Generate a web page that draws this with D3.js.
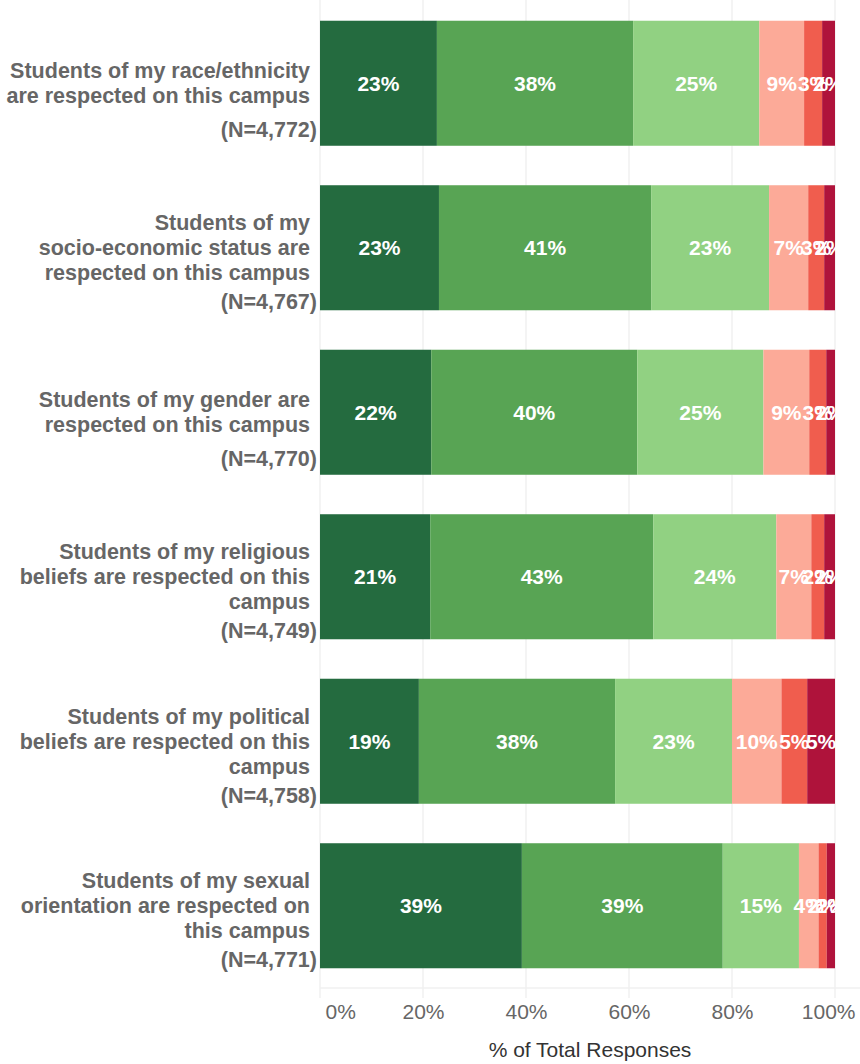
<!DOCTYPE html>
<html>
<head>
<meta charset="utf-8">
<script src="https://cdn.jsdelivr.net/npm/d3@7"></script>
<style>
  body { margin: 0; background: #fff; }
  text { font-family: "Liberation Sans", Arial, sans-serif; }
</style>
</head>
<body>
<div class="chart-container"></div>
<script>
var width = 860;
var height = 1064;

// statements, shown as wrapped lines, and respondent counts
var questions = [
  ["Students of my race/ethnicity", "are respected on this campus"],
  ["Students of my", "socio-economic status are", "respected on this campus"],
  ["Students of my gender are", "respected on this campus"],
  ["Students of my religious", "beliefs are respected on this", "campus"],
  ["Students of my political", "beliefs are respected on this", "campus"],
  ["Students of my sexual", "orientation are respected on", "this campus"]
];
var counts = ["4,772", "4,767", "4,770", "4,749", "4,758", "4,771"];

// response categories, strongly agree -> strongly disagree
var responses = ["Strongly agree", "Agree", "Somewhat agree", "Somewhat disagree", "Disagree", "Strongly disagree"];
var colors = ["#246b3f", "#58a454", "#91d182", "#fcaa98", "#f05d4e", "#af133b"];

// percent of responses per question (same order as responses)
var stronglyAgree = [22.7, 23.1, 21.6, 21.4, 19.2, 39.2];
var agree = [38.1, 41.2, 40.0, 43.3, 38.1, 39.0];
var somewhatAgree = [24.5, 22.9, 24.5, 23.9, 22.7, 14.8];
var somewhatDisagree = [8.7, 7.6, 8.9, 6.8, 9.6, 3.8];
var disagree = [3.5, 3.1, 3.3, 2.5, 5.0, 1.6];
var stronglyDisagree = [2.5, 2.1, 1.7, 2.1, 5.4, 1.6];
// rounded labels as printed in the chart
var labels = [
  [23, 38, 25, 9, 3, 2],
  [23, 41, 23, 7, 3, 2],
  [22, 40, 25, 9, 3, 2],
  [21, 43, 24, 7, 2, 2],
  [19, 38, 23, 10, 5, 5],
  [39, 39, 15, 4, 2, 2]
];
var xTicks = [0, 20, 40, 60, 80, 100];

var series = [stronglyAgree, agree, somewhatAgree, somewhatDisagree, disagree, stronglyDisagree];

var rows = questions.map(function (q, i) {
  var row = { id: i, lines: q, n: counts[i] };
  responses.forEach(function (r, j) { row[r] = series[j][i]; });
  return row;
});

var svg = d3
  .select(".chart-container")
  .append("svg")
  .attr("width", width)
  .attr("height", height);

var x = d3.scaleLinear().domain([0, 100]).range([320, 835]);
var y = d3
  .scaleBand()
  .domain(rows.map((d) => d.id))
  .range([1, 988])
  .paddingInner(0.24)
  .paddingOuter(0.12);

// gridlines
svg
  .append("g")
  .attr("class", "grid")
  .selectAll("line")
  .data(xTicks)
  .enter()
  .append("line")
  .attr("x1", (d) => x(d))
  .attr("x2", (d) => x(d))
  .attr("y1", 0)
  .attr("y2", 998)
  .style("stroke", "#f0f0f0")
  .style("stroke-width", 1.5);

svg
  .append("line")
  .attr("x1", x(0))
  .attr("x2", width)
  .attr("y1", 988)
  .attr("y2", 988)
  .style("stroke", "#f0f0f0")
  .style("stroke-width", 1.5);

var stack = d3.stack().keys(responses);
var stacked = stack(rows);

var layers = svg
  .append("g")
  .attr("class", "bars")
  .selectAll("g")
  .data(stacked)
  .enter()
  .append("g")
  .style("fill", (d, i) => colors[i]);

layers
  .selectAll("rect")
  .data((d) => d)
  .enter()
  .append("rect")
  .attr("x", (d) => x(d[0]))
  .attr("y", (d) => y(d.data.id))
  .attr("width", (d) => x(d[1]) - x(d[0]))
  .attr("height", y.bandwidth());

// value labels inside the segments
stacked.forEach(function (layer, j) {
  svg
    .append("g")
    .attr("class", "values")
    .selectAll("text")
    .data(layer)
    .enter()
    .append("text")
    .attr("x", (d) => x((d[0] + d[1]) / 2))
    .attr("y", (d) => y(d.data.id) + y.bandwidth() / 2)
    .attr("dy", "0.35em")
    .attr("text-anchor", "middle")
    .style("fill", "#fff")
    .style("font-weight", "bold")
    .style("font-size", "21px")
    .text((d) => labels[d.data.id][j] + "%");
});

// row labels
var lineHeight = 25;
var rowLabels = svg
  .append("g")
  .attr("class", "row-labels")
  .selectAll("g")
  .data(rows)
  .enter()
  .append("g");

rowLabels.each(function (d) {
  var g = d3.select(this);
  var mid = y(d.id) + y.bandwidth() / 2;
  var first = mid - ((d.lines.length - 1) * lineHeight) / 2;
  d.lines.forEach(function (line, k) {
    g.append("text")
      .attr("x", 310)
      .attr("y", first + k * lineHeight)
      .attr("dy", "0.35em")
      .attr("text-anchor", "end")
      .style("fill", "#666")
      .style("font-weight", "bold")
      .style("font-size", "21.5px")
      .text(line);
  });
  var last = first + (d.lines.length - 1) * lineHeight;
  g.append("text")
    .attr("x", 317)
    .attr("y", Math.max(last + 29, mid + 46))
    .attr("dy", "0.35em")
    .attr("text-anchor", "end")
    .style("fill", "#666")
    .style("font-weight", "bold")
    .style("font-size", "21.5px")
    .text("(N=" + d.n + ")");
});

// x axis
var xAxis = d3
  .axisBottom(x)
  .tickValues(xTicks)
  .tickFormat((d) => d + "%")
  .tickSize(0);

var xAxisDraw = svg
  .append("g")
  .attr("class", "x axis")
  .attr("transform", "translate(0,1012)")
  .call(xAxis);

xAxisDraw.select(".domain").remove();
xAxisDraw
  .selectAll("text")
  .attr("y", 0)
  .attr("dy", "0.35em")
  .style("font-size", "21px")
  .style("font-family", "Liberation Sans, Arial, sans-serif")
  .style("fill", "#666")
  .attr("text-anchor", (d) => (d === 0 ? "start" : d === 100 ? "end" : "middle"))
  .attr("dx", (d) => (d === 0 ? 5 : d === 100 ? 20 : 0));

svg
  .append("text")
  .attr("class", "x-title")
  .attr("x", 590)
  .attr("y", 1050)
  .attr("dy", "0.35em")
  .attr("text-anchor", "middle")
  .style("fill", "#333")
  .style("font-size", "21px")
  .text("% of Total Responses");
</script>
</body>
</html>
